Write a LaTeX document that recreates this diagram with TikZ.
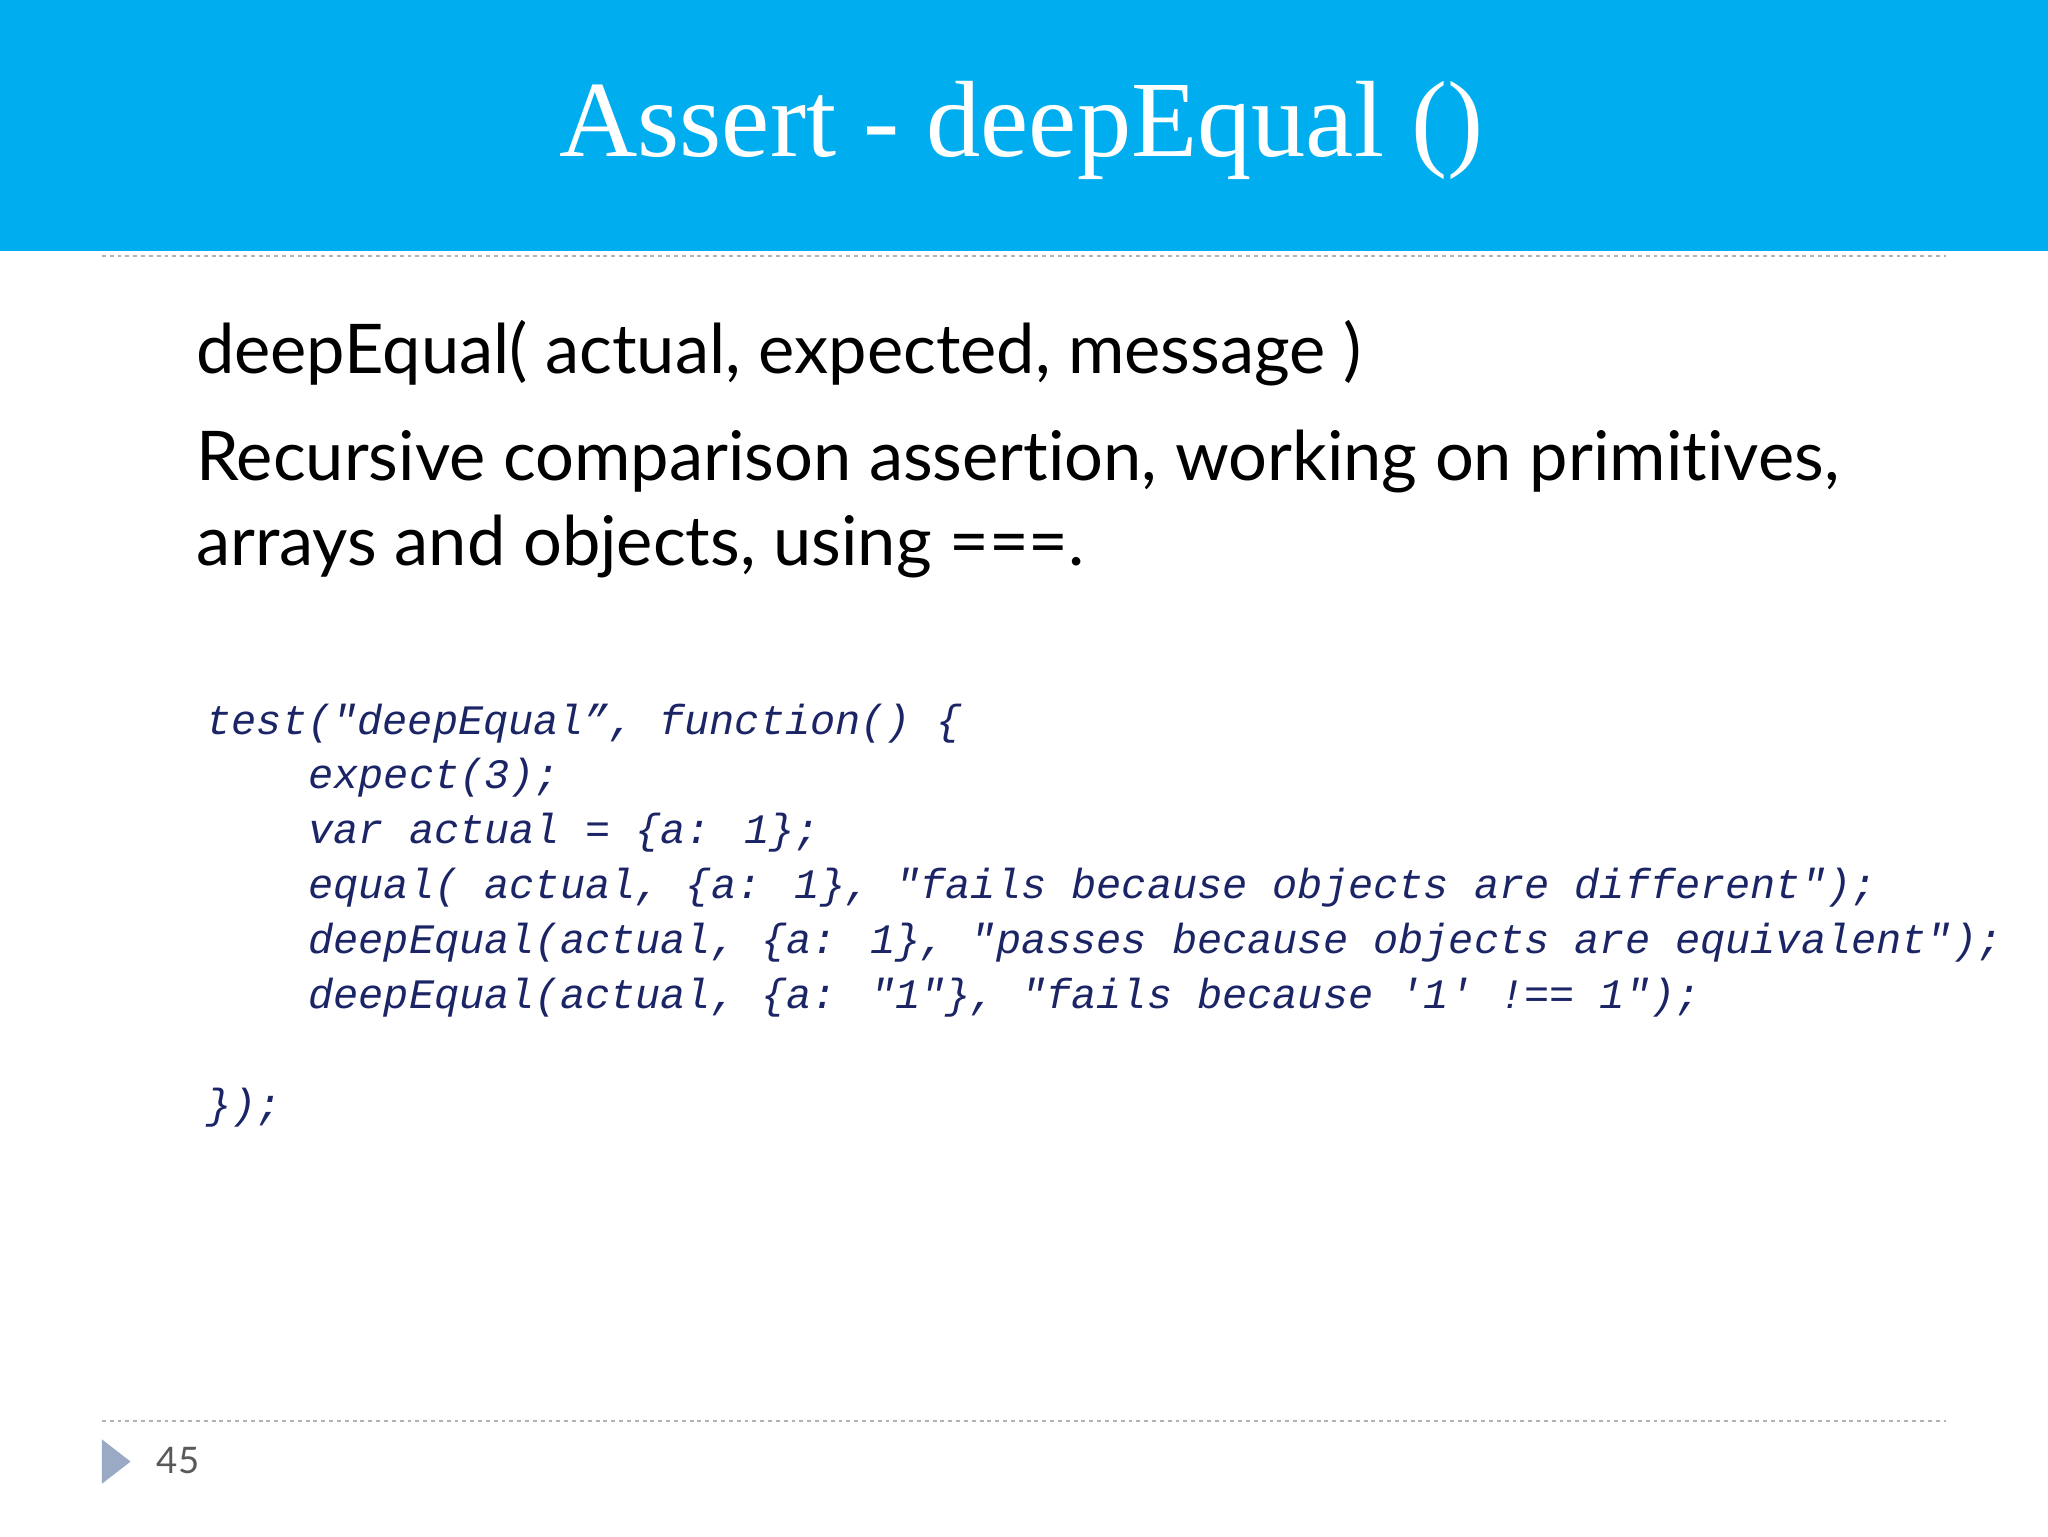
\documentclass[tikz,border=0pt]{standalone}
\usepackage{fontspec}
\setmainfont{Liberation Serif}
\newfontfamily\bodyf[Ligatures=NoCommon]{Lato}
\newfontfamily\codef{Liberation Mono}
\definecolor{hdr}{HTML}{00AEEF}
\definecolor{navy}{HTML}{1B2566}
\definecolor{tri}{HTML}{9AAAC4}
\begin{document}
\begin{tikzpicture}[x=1pt,y=-1pt,
  body/.style={anchor=base west,inner sep=0,font=\bodyf\fontsize{52.5}{60}\selectfont},
  code/.style={anchor=base west,inner sep=0,text=navy,font=\codef\itshape\fontsize{32.1}{40}\selectfont},
  rule/.style={draw=gray!60,dashed,line width=1pt}]
\useasboundingbox (0,0) rectangle (1568,1176);
\fill[white] (0,0) rectangle (1568,1176);
\fill[hdr] (0,0) rectangle (1568,192);
\node[anchor=base,inner sep=0,text=white,font=\fontsize{83}{88}\selectfont] (title) at (782,120) {Assert - deepEqual ()};
\coordinate (r1a) at (78,196); \coordinate (r1b) at (1490,196);
\draw[rule] (r1a) -- (r1b);
\coordinate (r2a) at (78,1088); \coordinate (r2b) at (1490,1088);
\draw[rule] (r2a) -- (r2b);
\node[body] (l1) at (150,286) {deepEqual( actual, expected, message )};
\node[body] (l2) at (150,368) {Recursive comparison assertion, working on primitives,};
\node[body] (l3) at (150,433) {arrays and objects, using ===.};
\node[code] (c1) at (158,562) {test("deepEqual”, function() \{};
\node[code] (c2) at (236,604) {expect(3);};
\node[code] (c3) at (236,646) {var actual = \{a: 1\};};
\node[code] (c4) at (236,688) {equal( actual, \{a: 1\}, "fails because objects are different");};
\node[code] (c5) at (236,730) {deepEqual(actual, \{a: 1\}, "passes because objects are equivalent");};
\node[code] (c6) at (236,772) {deepEqual(actual, \{a: "1"\}, "fails because '1' !== 1");};
\node[code] (c7) at (158,856) {\});};
\fill[tri] (78,1102) -- (100,1119) -- (78,1136) -- cycle;
\node[anchor=base west,inner sep=0,text=gray!70!black,font=\bodyf\fontsize{28}{32}\selectfont] (num) at (120,1128) {45};
\end{tikzpicture}
\end{document}
